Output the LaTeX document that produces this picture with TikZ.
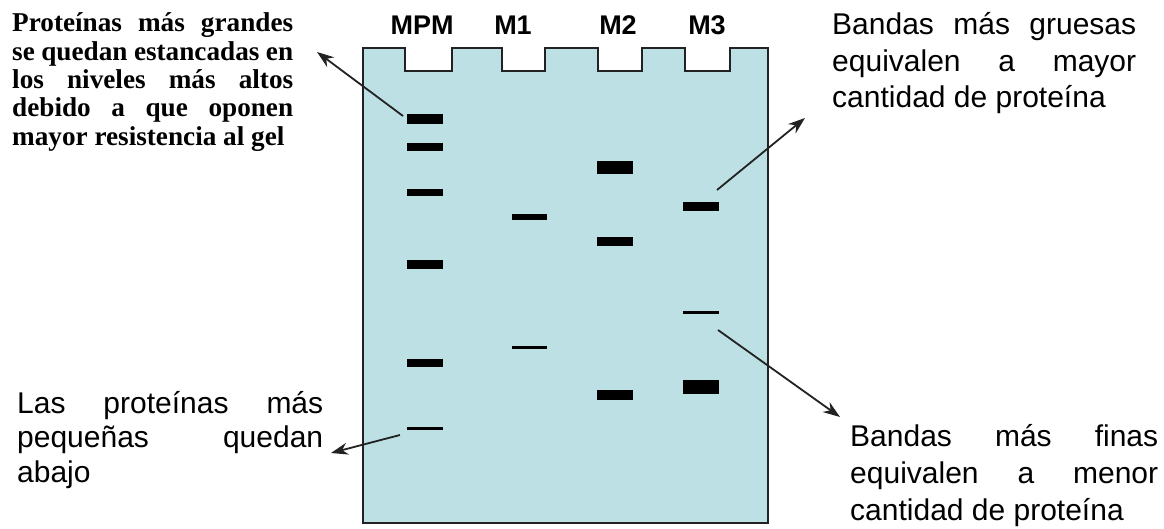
\documentclass[tikz,border=0pt]{standalone}
\usepackage{fontspec}
\setmainfont{Liberation Sans}
\newfontfamily\serifbf{Liberation Serif}
\usetikzlibrary{arrows.meta}
\definecolor{gel}{HTML}{BDE0E4}
\definecolor{ink}{HTML}{222222}
\newcommand{\jl}[2]{\makebox[#1][s]{#2}}
\begin{document}
\begin{tikzpicture}[x=1pt,y=-1pt,
  band/.style={fill=black, draw=none, inner sep=0pt, minimum width=36pt},
  lanelabel/.style={font=\fontsize{27}{30}\selectfont\bfseries, anchor=base, inner sep=0pt},
  callout/.style={draw=ink, line width=1.8pt, -{Stealth[length=17pt,width=12pt]}},
  textblock/.style={anchor=base west, inner sep=0pt},
]
\useasboundingbox (0,0) rectangle (1164,529);
\fill[white] (0,0) rectangle (1164,529);

% gel
\draw[fill=gel, draw=ink, line width=2pt, line join=miter]
  (363,48) -- (405,48) -- (405,71) -- (452,71) -- (452,48)
  -- (502,48) -- (502,71) -- (545,71) -- (545,48)
  -- (598,48) -- (598,71) -- (642,71) -- (642,48)
  -- (685,48) -- (685,71) -- (730,71) -- (730,48)
  -- (768,48) -- (768,523) -- (363,523) -- cycle;

% lane labels
\node[lanelabel] (lMPM) at (422,35) {MPM};
\node[lanelabel] (lM1) at (513,35) {M1};
\node[lanelabel] (lM2) at (618,35) {M2};
\node[lanelabel] (lM3) at (707,35) {M3};

% bands MPM
\node[band, minimum height=10pt] (p1) at (425,119) {};
\node[band, minimum height=8pt] (p2) at (425,147) {};
\node[band, minimum height=7pt] (p3) at (425,193) {};
\node[band, minimum height=9pt] (p4) at (425,265) {};
\node[band, minimum height=8pt] (p5) at (425,363) {};
\node[band, minimum height=3pt] (p6) at (425,428) {};
% M1
\node[band, minimum height=6pt, minimum width=35pt] (a1) at (529,217) {};
\node[band, minimum height=3pt, minimum width=35pt] (a2) at (529,347) {};
% M2
\node[band, minimum height=13pt] (b1) at (615,168) {};
\node[band, minimum height=9pt] (b2) at (615,242) {};
\node[band, minimum height=10pt] (b3) at (615,395) {};
% M3
\node[band, minimum height=9pt] (c1) at (701,207) {};
\node[band, minimum height=3pt] (c2) at (701,312) {};
\node[band, minimum height=14pt] (c3) at (701,387) {};

% texts
\node[textblock] (tl) at (12,32) {\parbox[t]{281pt}{\serifbf\bfseries\fontsize{27.2}{28.3}\selectfont
\jl{281pt}{Proteínas más grandes}\\
\jl{281pt}{se quedan estancadas en}\\
\jl{281pt}{los niveles más altos}\\
\jl{281pt}{debido a que oponen}\\
mayor resistencia al gel}};

\node[textblock] (bl) at (17,413) {\parbox[t]{306pt}{\fontsize{30}{34.5}\selectfont
\jl{306pt}{Las proteínas más}\\
\jl{306pt}{pequeñas quedan}\\
abajo}};

\node[textblock] (tr) at (832,35) {\parbox[t]{304pt}{\fontsize{30}{36.5}\selectfont
\jl{304pt}{Bandas más gruesas}\\
\jl{304pt}{equivalen a mayor}\\
cantidad de proteína}};

\node[textblock] (br) at (850,446) {\parbox[t]{308pt}{\fontsize{30}{37}\selectfont
\jl{308pt}{Bandas más finas}\\
\jl{308pt}{equivalen a menor}\\
cantidad de proteína}};

% callouts
\coordinate (s1) at (403,116);
\coordinate (e1) at (317,52);
\coordinate (s2) at (400,435);
\coordinate (e2) at (331,453);
\coordinate (s3) at (717,190);
\coordinate (e3) at (805,118);
\coordinate (s4) at (718,330);
\coordinate (e4) at (840,417);
\draw[callout] (s1) -- (e1);
\draw[callout] (s2) -- (e2);
\draw[callout] (s3) -- (e3);
\draw[callout] (s4) -- (e4);
\end{tikzpicture}
\end{document}
